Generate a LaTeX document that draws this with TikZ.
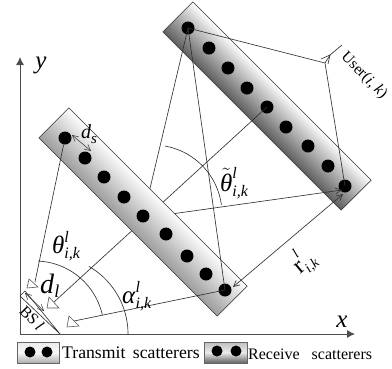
\documentclass[tikz,border=0pt]{standalone}
\usepackage{fontspec}
\setmainfont{Liberation Serif}
\usetikzlibrary{arrows.meta}
\newcommand{\fs}[1]{\fontsize{#1}{#1}\selectfont}
\newcommand{\lab}[6]{{\fs{#1}#2}\rlap{\raisebox{#5}{\fs{#6}\textit{#3}}}\raisebox{-4.5pt}{\fs{#6}\textit{#4}}}
% gradient panel: left corner (#1,#2), bottom corner (#3,#4), darkest value #5 % black, fading to white towards the upper right
\newcommand{\panelshade}[5]{%
  \foreach \i in {0,...,42}{%
    \pgfmathsetmacro{\s}{\i/43}%
    \pgfmathsetmacro{\p}{#5*(1-\s)}%
    \fill[black!\p!white] ({#1+30*\s},{#2-30*\s}) -- ({#3+30*\s},{#4-30*\s}) -- ({#3+30},{#4-30}) -- ({#1+30},{#2-30}) -- cycle;
  }%
}
\definecolor{ln}{gray}{0.2}
\tikzset{
  x=1pt,y=-1pt,
  ln/.style={draw=ln,line width=0.65pt},
  axis/.style={draw=black!70,line width=0.9pt,-{Latex[length=8pt,width=8pt]}},
  oarrow/.style={ln,{Straight Barb[length=6pt,width=6pt]}-{Straight Barb[length=6pt,width=6pt]}},
  sarrow/.style={ln,-{Straight Barb[length=6pt,width=6pt]}},
  dot/.style={circle,fill=black,inner sep=0pt,minimum size=13pt},
  ldot/.style={circle,fill=black,inner sep=0pt,minimum size=11pt},
  panel/.style={rectangle,draw=ln,line width=0.6pt,minimum width=252pt,minimum height=42.4pt,rotate=-45},
  txleg/.style={rectangle,draw=black!60,line width=0.7pt,minimum width=42pt,minimum height=21pt,top color=black!8,bottom color=black!32,middle color=black!3},
  rxleg/.style={rectangle,draw=black!60,line width=0.7pt,minimum width=43pt,minimum height=21pt,top color=black!25,bottom color=black!62,middle color=black!8},
  anttri/.style={draw=black!65,fill=white,line width=0.6pt,line join=miter},
}
\begin{document}
\begin{tikzpicture}
\useasboundingbox (0,0) rectangle (392,368);
% coordinates
\coordinate (t1) at (35,282);
\coordinate (t2) at (54,302);
\coordinate (t3) at (74,321);
\coordinate (user) at (325,63);
\coordinate (uy) at (330,55);
\coordinate (utop) at (342,45);
\coordinate (rxs) at (143,218);
\coordinate (rxe) at (342,190);
% receive panel
\panelshade{163}{32}{341}{210}{62}
\node[panel] (rxp) at (267,106) {};
% lines behind the transmit panel
\node[dot] (b1) at (188,28) {};
\node[dot] (b2) at (209,48) {};
\node[dot] (b3) at (228,68) {};
\node[dot] (b4) at (247,88) {};
\node[dot] (b5) at (267,107) {};
\node[dot] (b6) at (286,127) {};
\node[dot] (b7) at (308,146) {};
\node[dot] (b8) at (328,166) {};
\node[dot] (b9) at (345,186) {};
\draw[ln] (t2) -- (b5.center);
\draw[ln] (b1.center) -- (rxs);
\draw[sarrow] (rxs) -- (rxe);
% transmit panel
\panelshade{39}{138}{217}{316}{38}
\node[panel] (txp) at (143,212) {};
\node[dot] (a1) at (65,138) {};
\node[dot] (a2) at (85,158) {};
\node[dot] (a3) at (104,177) {};
\node[dot] (a4) at (124,197) {};
\node[dot] (a5) at (143,216) {};
\node[dot] (a6) at (166,234) {};
\node[dot] (a7) at (187,256) {};
\node[dot] (a8) at (206,274) {};
\node[dot] (a9) at (225,290) {};
% axes
\coordinate (o) at (20,334);
\coordinate (xe) at (355,334);
\coordinate (ye) at (20,57);
\draw[axis] (o) -- (xe);
\draw[axis] (o) -- (ye);
% visible connectors
\draw[ln] (t1) -- (a1);
\draw[ln] (t3) -- (a9.center);
\draw[ln] (b1.center) -- (a9.center);
\draw[ln] (b1.center) -- (user) -- (b9.center);
\draw[ln] (user) -- (uy) -- (utop);
\coordinate (ua1) at (321,59);
\coordinate (ua2) at (328,64);
\draw[ln] (ua1) -- (uy) -- (ua2);
\coordinate (ra) at (233,287);
\coordinate (rb) at (343,194);
\draw[oarrow] (ra) -- (rb);
\coordinate (dsa) at (72,135);
\coordinate (dsb) at (91,151);
\draw[oarrow,line width=0.5pt] (dsa) -- (dsb);
% arcs
\draw[ln,smooth] plot[domain=87.5:12.5,samples=30] ({35+69*cos(\x)},{330-69*sin(\x)});
\draw[ln,smooth] plot[domain=60:0,samples=30] ({50+78*cos(\x)},{334-78*sin(\x)});
\draw[ln,smooth] plot[domain=80:7.5,samples=30] ({153+69*cos(\x)},{214-69*sin(\x)});
% BS
\coordinate (bs1) at (20,296);
\coordinate (bs2) at (25,291);
\coordinate (bs3) at (60,334);
\draw[ln] (bs1) -- (bs2) -- (bs3) -- cycle;
\coordinate (dla) at (25,293);
\coordinate (dlb) at (44,311);
\draw[oarrow,line width=0.5pt] (dla) -- (dlb);
% antennas
\draw[anttri] (29,279) -- (27,288) -- (38,287) -- cycle;
\draw[anttri] (49,297) -- (47,308) -- (59,308) -- cycle;
\draw[anttri] (69,316) -- (67,327) -- (79,326) -- cycle;
% labels
\node[inner sep=0pt] (ylab) at (41,65) {\fs{25}\textit{y}};
\node[inner sep=0pt] (xlab) at (342,322) {\fs{25}\textit{x}};
\node[inner sep=0pt,anchor=west] (thlab) at (52,246) {\lab{25}{\textit{θ}}{l}{i,k}{11pt}{16}};
\node[inner sep=0pt,anchor=west] (dllab) at (40,286) {\lab{28}{\textit{d}}{}{l}{0pt}{18}};
\node[inner sep=0pt,anchor=west] (alab) at (122,296) {\lab{25}{\textit{α}}{l}{i,k}{11pt}{16}};
\node[inner sep=0pt,anchor=west] (dslab) at (81,134) {\lab{20}{\textit{d}}{}{s}{0pt}{15}};
\node[inner sep=0pt,anchor=west] (tilab) at (220,183) {\lab{25}{$\tilde{\mbox{\textit{θ}}}$}{l}{i,k}{13pt}{16}};
\node[inner sep=0pt,rotate=40] (rlab) at (303,261) {\lab{24}{r}{l}{i,k}{15pt}{14}};
\node[inner sep=0pt,rotate=-45] (ulab) at (364,76) {\fs{15.5}User(\textit{i, k})};
\node[inner sep=0pt,rotate=-45] (bslab) at (32,318) {\fs{16}BS\,\textit{l}};
% legend
\node[txleg] (lg1) at (38,352.5) {};
\node[ldot] (lg1a) at (30,352) {};
\node[ldot] (lg1b) at (47,352) {};
\node[inner sep=0pt,anchor=west] (lg1t) at (62,353) {\fs{17.7}Transmit\hspace{3pt} scatterers};
\node[rxleg] (lg2) at (225.5,352.5) {};
\node[ldot] (lg2a) at (217,351) {};
\node[ldot] (lg2b) at (236,351) {};
\node[inner sep=0pt,anchor=west] (lg2t) at (248,354) {\fs{16}Receive\hspace{8pt} scatterers};
\end{tikzpicture}
\end{document}
